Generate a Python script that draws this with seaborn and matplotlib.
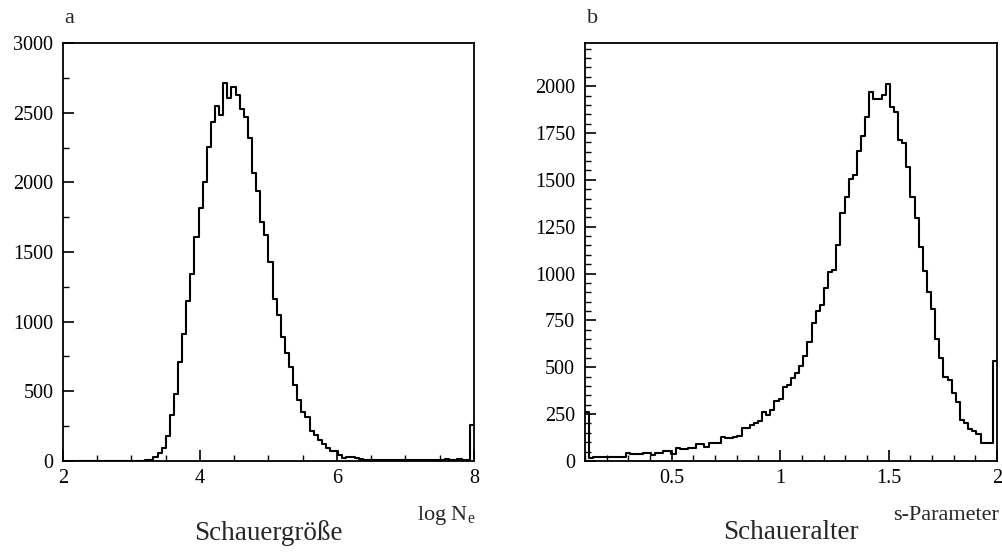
import numpy as np
import pandas as pd
import matplotlib
matplotlib.use("Agg")
import matplotlib.pyplot as plt
import seaborn as sns
from matplotlib.ticker import MultipleLocator, FuncFormatter

# ──────────────────────────────────────────────
# Data (counts per bin)
# ──────────────────────────────────────────────

# panel a: shower size, 100 bins between log Ne = 2 and 8
size_range = (2.0, 8.0)
size_counts = [
    0, 0, 0, 0, 0, 0, 0, 0, 0, 0,
    0, 0, 2, 0, 0, 2, 0, 3, 0, 2,
    4, 8, 27, 55, 91, 179, 330, 481, 713, 909,
    1151, 1340, 1610, 1814, 2005, 2251, 2435, 2547, 2483, 2715,
    2605, 2682, 2630, 2524, 2467, 2321, 2065, 1938, 1718, 1622,
    1426, 1160, 1048, 888, 773, 677, 545, 435, 354, 312,
    216, 187, 153, 121, 95, 72, 68, 40, 22, 30,
    28, 18, 12, 10, 9, 10, 8, 9, 10, 8,
    9, 8, 10, 9, 8, 7, 9, 8, 10, 9,
    8, 9, 10, 11, 9, 10, 12, 10, 8, 258,
]

# panel b: shower age, 100 bins between s = 0.1 and 2.0
age_range = (0.1, 2.0)
age_counts = [
    260, 15, 22, 22, 22, 22, 22, 22, 22, 22,
    44, 35, 35, 35, 40, 40, 29, 44, 44, 52,
    52, 35, 70, 61, 61, 70, 70, 88, 88, 75,
    95, 95, 97, 130, 120, 120, 125, 135, 177, 177,
    194, 205, 212, 262, 245, 270, 320, 330, 395, 407,
    443, 470, 505, 558, 633, 736, 798, 834, 922, 1008,
    1020, 1153, 1322, 1410, 1505, 1526, 1654, 1734, 1837, 1970,
    1931, 1931, 1952, 2009, 1890, 1863, 1712, 1698, 1567, 1410,
    1295, 1139, 1016, 899, 810, 651, 549, 448, 431, 363,
    315, 216, 203, 168, 159, 145, 97, 97, 97, 535,
]

panel_letters = ["a", "b"]
panel_titles = ["Schauergröße", "Schaueralter"]
axis_names = [r"log N$_{\rm e}$", "s-Parameter"]

# ──────────────────────────────────────────────
# Style
# ──────────────────────────────────────────────

sns.set_style("ticks")
plt.rcParams["font.family"] = ["Liberation Serif", "DejaVu Serif"]
plt.rcParams["mathtext.fontset"] = "custom"
plt.rcParams["mathtext.rm"] = "Liberation Serif"
plt.rcParams["axes.edgecolor"] = "black"
plt.rcParams["axes.linewidth"] = 1.3


def draw_hist(ax, counts, rng):
    edges = np.linspace(rng[0], rng[1], len(counts) + 1)
    df = pd.DataFrame({"x": (edges[:-1] + edges[1:]) / 2, "n": counts})
    # bins as a plain list: seaborn compares it to "auto" internally
    sns.histplot(data=df, x="x", weights="n", bins=edges.tolist(),
                 element="step", fill=False, color="black", linewidth=1.5,
                 ax=ax)
    ax.set_xlim(*rng)
    ax.set_xlabel("")
    ax.set_ylabel("")


def style_axes(ax):
    for s in ax.spines.values():
        s.set_visible(True)
        s.set_color("black")
    ax.tick_params(which="both", direction="in", top=False, right=False,
                   labelsize=14.5, colors="black")
    ax.tick_params(which="major", length=8, width=1.2)
    ax.tick_params(which="minor", length=4, width=1.0)
    ax.tick_params(axis="y", which="major", pad=7)
    ax.tick_params(axis="x", which="major", pad=6)


fig = plt.figure(figsize=(10.02, 5.52), dpi=100)
ax_a = fig.add_axes([0.0629, 0.165, 0.410, 0.757])
ax_b = fig.add_axes([0.5838, 0.165, 0.4112, 0.757])

# panel a
draw_hist(ax_a, size_counts, size_range)
ax_a.set_ylim(0, 3000)
ax_a.xaxis.set_major_locator(MultipleLocator(2))
ax_a.xaxis.set_minor_locator(MultipleLocator(0.5))
ax_a.yaxis.set_major_locator(MultipleLocator(500))
ax_a.yaxis.set_minor_locator(MultipleLocator(250))
style_axes(ax_a)

# panel b
draw_hist(ax_b, age_counts, age_range)
ax_b.set_ylim(0, 2230)
ax_b.xaxis.set_major_locator(MultipleLocator(0.5))
ax_b.xaxis.set_minor_locator(MultipleLocator(0.1))
ax_b.yaxis.set_major_locator(MultipleLocator(250))
ax_b.yaxis.set_minor_locator(MultipleLocator(50))
style_axes(ax_b)

fmt = FuncFormatter(lambda v, p: f"{v:g}")
for ax in (ax_a, ax_b):
    ax.xaxis.set_major_formatter(fmt)
    ax.yaxis.set_major_formatter(fmt)

for ax, letter, title, name in zip((ax_a, ax_b), panel_letters, panel_titles, axis_names):
    ax.text(0.004, 1.058, letter, transform=ax.transAxes, fontsize=16,
            ha="left", va="center")
    ax.text(1.005, -0.13, name, transform=ax.transAxes, fontsize=16,
            ha="right", va="center")
    ax.text(0.5, -0.172, title, transform=ax.transAxes, fontsize=19.5,
            ha="center", va="center")

fig.savefig("out.png", dpi=100)
